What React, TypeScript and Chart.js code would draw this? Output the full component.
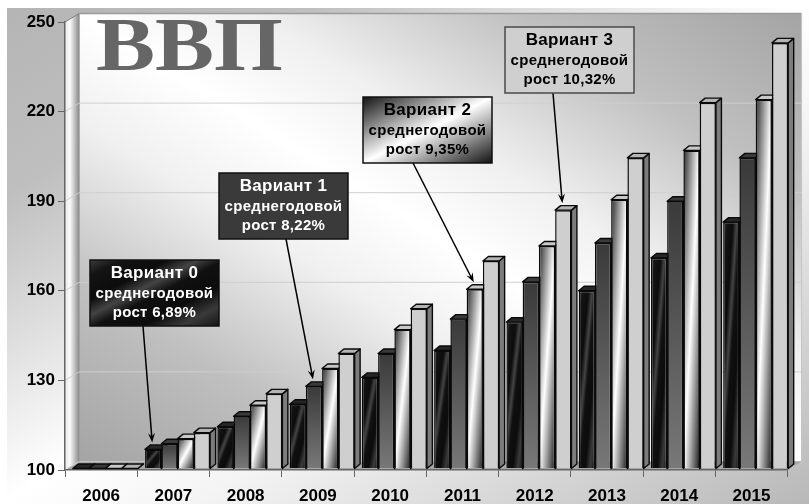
import React, { useEffect, useRef } from "react";
import { Chart, registerables } from "chart.js";

Chart.register(...registerables);

const years = ["2006", "2007", "2008", "2009", "2010", "2011", "2012", "2013", "2014", "2015"];
const variant0 = [100, 106.4, 114, 121.5, 130.5, 139.5, 149, 159.5, 170.5, 182.5];
const variant1 = [100, 108.3, 117.5, 127.5, 138.5, 150, 162.5, 175.5, 189.5, 204];
const variant2 = [100, 110, 121.2, 133.5, 146.5, 160, 174.5, 190, 206.5, 223.5];
const variant3 = [100, 112, 125, 138.5, 153.5, 169.5, 186.5, 204, 222.5, 242.5];
const seriesNames = ["Вариант 0", "Вариант 1", "Вариант 2", "Вариант 3"];
const growthLines = ["рост 6,89%", "рост 8,22%", "рост 9,35%", "рост 10,32%"];
const subtitleLine = "среднегодовой";
const titleText = "ВВП";
const AXIS_MIN = 100;
const AXIS_MAX = 250;
const AXIS_STEP = 30;

const capColors = ["#262626", "#3a3a3a", "#c8c8c8", "#b4b4b4"];
const sideColors = ["#202020", "#303030", "#7a7a7a", "#7c7c7c"];

// callout layout: box left/top, and the bar (year index) the arrow points at
const calloutBoxes = [
  { x: 90, y: 260, year: 1, arrowFrom: 143 },
  { x: 219, y: 173, year: 3, arrowFrom: 286 },
  { x: 363, y: 97, year: 5, arrowFrom: 413 },
  { x: 505, y: 27, year: 6, arrowFrom: 553 },
];
const BOX_W = 129;
const BOX_H = 66;
const DEPTH_X = 5.5;
const DEPTH_Y = 4.5;
const SHIFT_X = 4.2;
const SHIFT_Y = -1.5;
const WALL_X = 14;
const WALL_Y = 8.5;
const CAT_PCT = 0.9;

function unitLinear(ctx: CanvasRenderingContext2D, x: number, y: number, w: number, h: number, stops: [number, string][], anti: boolean) {
  // gradient whose iso-lines follow a rectangle diagonal
  const hh = Math.max(h, 1);
  const len = Math.hypot(hh, w);
  const nx = hh / len;
  const ny = (anti ? -w : w) / len;
  const half = (w * hh) / len;
  const cx = x + w / 2;
  const cy = y + hh / 2;
  const g = ctx.createLinearGradient(cx - nx * half, cy - ny * half, cx + nx * half, cy + ny * half);
  stops.forEach(([o, c]) => g.addColorStop(o, c));
  return g;
}

const stripes: [number, string][] = [
  [0, "#3c3c3c"], [0.12, "#141414"], [0.3, "#0c0c0c"], [0.42, "#444444"], [0.52, "#101010"], [0.7, "#0c0c0c"], [0.85, "#3a3a3a"], [1, "#141414"],
];
const shine: [number, string][] = [[0, "#2c2c2c"], [0.5, "#ffffff"], [1, "#1c1c1c"]];

function fillFor(ctx: CanvasRenderingContext2D, series: number, x: number, y: number, w: number, h: number): any {
  if (series === 0) return unitLinear(ctx, x, y, w, h, stripes, false);
  if (series === 1) {
    const g = ctx.createLinearGradient(0, y, 0, y + Math.max(h, 1));
    g.addColorStop(0, "#3a3a3a");
    g.addColorStop(1, "#787878");
    return g;
  }
  if (series === 2) return unitLinear(ctx, x, y, w, h, shine, false);
  return "#cfcfcf";
}

function barFill(c: any) {
  const chart = c.chart;
  if (!chart.chartArea || c.dataIndex === undefined) return "#888";
  const xs = chart.scales.x;
  const ys = chart.scales.y;
  const cat = xs.width / years.length;
  const slot = (cat * CAT_PCT) / 4;
  const left = xs.getPixelForValue(c.dataIndex) - (cat * CAT_PCT) / 2 + slot * c.datasetIndex;
  const top = ys.getPixelForValue(c.raw);
  return fillFor(chart.ctx, c.datasetIndex, left, top, slot, chart.chartArea.bottom - top);
}

const scene = {
  id: "scene",
  beforeDraw(chart: any) {
    const { ctx, chartArea: a, width, height } = chart;
    ctx.save();
    // page panel
    ctx.fillStyle = "#ffffff";
    ctx.fillRect(0, 0, width, height);
    ctx.save();
    ctx.beginPath();
    ctx.rect(7, 8, width - 7, height - 8);
    ctx.clip();
    ctx.scale(width, height);
    const bg = ctx.createLinearGradient(0, 0, 1, 1);
    bg.addColorStop(0, "#b4b4b4");
    bg.addColorStop(0.2, "#bfbfbf");
    bg.addColorStop(0.5, "#ffffff");
    bg.addColorStop(0.62, "#f4f4f4");
    bg.addColorStop(1, "#b8b8b8");
    ctx.fillStyle = bg;
    ctx.fillRect(0, 0, 1, 1);
    ctx.restore();

    const L = a.left, R = a.right, T = a.top, B = a.bottom;
    const wl = L + WALL_X, wr = R + WALL_X, wt = T - WALL_Y, wb = B - WALL_Y;

    // back wall
    ctx.save();
    ctx.beginPath();
    ctx.rect(wl, wt, wr - wl, wb - wt);
    ctx.clip();
    ctx.translate(wl, wb);
    ctx.scale(wr - wl, wt - wb);
    const wall = ctx.createLinearGradient(0, 0, 1, 1);
    wall.addColorStop(0, "#a4a4a4");
    wall.addColorStop(0.2, "#c0c0c0");
    wall.addColorStop(0.38, "#f0f0f0");
    wall.addColorStop(0.5, "#ffffff");
    wall.addColorStop(0.62, "#f0f0f0");
    wall.addColorStop(0.8, "#c0c0c0");
    wall.addColorStop(1, "#a4a4a4");
    ctx.fillStyle = wall;
    ctx.fillRect(0, 0, 1, 1);
    ctx.restore();
    ctx.strokeStyle = "#9a9a9a";
    ctx.lineWidth = 1.5;
    ctx.beginPath();
    ctx.moveTo(wl, wb);
    ctx.lineTo(wl, wt);
    ctx.lineTo(wr, wt);
    ctx.stroke();
    ctx.strokeStyle = "#c4c4c4";
    ctx.lineWidth = 1;
    ctx.beginPath();
    ctx.moveTo(wr, wt);
    ctx.lineTo(wr, wb);
    ctx.stroke();

    // left side wall
    const side = ctx.createLinearGradient(L, 0, wl, 0);
    side.addColorStop(0, "#e8e8e8");
    side.addColorStop(0.35, "#fbfbfb");
    side.addColorStop(1, "#8c8c8c");
    ctx.fillStyle = side;
    ctx.beginPath();
    ctx.moveTo(L, T);
    ctx.lineTo(wl, wt);
    ctx.lineTo(wl, wb);
    ctx.lineTo(L, B);
    ctx.closePath();
    ctx.fill();

    // floor
    ctx.fillStyle = "#a6a6a6";
    ctx.beginPath();
    ctx.moveTo(L, B);
    ctx.lineTo(wl, wb);
    ctx.lineTo(wr, wb);
    ctx.lineTo(R, B);
    ctx.closePath();
    ctx.fill();

    // wall grid lines, from the value scale
    chart.scales.y.ticks.forEach((t: any, i: number) => {
      const py = chart.scales.y.getPixelForValue(t.value);
      const last = i === chart.scales.y.ticks.length - 1;
      ctx.strokeStyle = last ? "#808080" : "#cfcfcf";
      ctx.lineWidth = 1;
      ctx.beginPath();
      ctx.moveTo(L, py);
      ctx.lineTo(wl, py - WALL_Y);
      if (i > 0 && !last) ctx.lineTo(wr, py - WALL_Y);
      ctx.stroke();
    });

    // big title
    ctx.save();
    ctx.translate(96, 70);
    ctx.scale(1.165, 1);
    ctx.fillStyle = "#666666";
    ctx.font = 'bold 76px "Liberation Serif"';
    ctx.textAlign = "left";
    ctx.textBaseline = "alphabetic";
    ctx.fillText(titleText, 0, 0);
    ctx.restore();
    ctx.restore();
  },
  beforeDatasetsDraw(chart: any) {
    const { ctx, chartArea } = chart;
    ctx.save();
    ctx.translate(SHIFT_X, SHIFT_Y);
    // caps and side faces of every bar, left to right
    years.forEach((_: string, yi: number) => {
      [0, 1, 2, 3].forEach((si) => {
        const el = chart.getDatasetMeta(si).data[yi];
        const w = el.width;
        const l = el.x - w / 2;
        const r = el.x + w / 2;
        const t = el.y;
        const b = chartArea.bottom;
        ctx.lineWidth = 1.4;
        ctx.strokeStyle = "#0a0a0a";
        ctx.lineJoin = "round";
        ctx.fillStyle = sideColors[si];
        ctx.beginPath();
        ctx.moveTo(r, t);
        ctx.lineTo(r + DEPTH_X, t - DEPTH_Y);
        ctx.lineTo(r + DEPTH_X, b - DEPTH_Y);
        ctx.lineTo(r, b);
        ctx.closePath();
        ctx.fill();
        ctx.stroke();
        ctx.fillStyle = capColors[si];
        ctx.beginPath();
        ctx.moveTo(l, t);
        ctx.lineTo(l + DEPTH_X, t - DEPTH_Y);
        ctx.lineTo(r + DEPTH_X, t - DEPTH_Y);
        ctx.lineTo(r, t);
        ctx.closePath();
        ctx.fill();
        ctx.stroke();
      });
    });
  },
  afterDatasetsDraw(chart: any) {
    const { ctx } = chart;
    ctx.restore();
    ctx.save();
    calloutBoxes.forEach((box, si) => {
      const el = chart.getDatasetMeta(si).data[box.year];
      // arrow
      const fx = box.arrowFrom;
      const fy = box.y + BOX_H;
      const tx = el.x + SHIFT_X - 1;
      const ty = el.y + SHIFT_Y - 7;
      const ang = Math.atan2(ty - fy, tx - fx);
      ctx.strokeStyle = "#000";
      ctx.fillStyle = "#000";
      ctx.lineWidth = 1.5;
      ctx.beginPath();
      ctx.moveTo(fx, fy);
      ctx.lineTo(tx - Math.cos(ang) * 4, ty - Math.sin(ang) * 4);
      ctx.stroke();
      ctx.beginPath();
      ctx.moveTo(tx, ty);
      ctx.lineTo(tx - Math.cos(ang - 0.36) * 10, ty - Math.sin(ang - 0.36) * 10);
      ctx.lineTo(tx - Math.cos(ang) * 6, ty - Math.sin(ang) * 6);
      ctx.lineTo(tx - Math.cos(ang + 0.36) * 10, ty - Math.sin(ang + 0.36) * 10);
      ctx.closePath();
      ctx.fill();
      // box
      ctx.fillStyle = si === 0 ? unitLinear(ctx, box.x, box.y, BOX_W, BOX_H, stripes, false)
        : si === 1 ? "#3a3a3a"
        : si === 2 ? unitLinear(ctx, box.x, box.y, BOX_W, BOX_H, [[0, "#111111"], [0.5, "#ffffff"], [1, "#111111"]], false)
        : "#cfcfcf";
      ctx.fillRect(box.x, box.y, BOX_W, BOX_H);
      ctx.strokeStyle = si === 3 ? "#4a4a4a" : "#111111";
      ctx.lineWidth = 1.5;
      ctx.strokeRect(box.x, box.y, BOX_W, BOX_H);
      // text
      const cx = box.x + BOX_W / 2;
      ctx.fillStyle = si < 2 ? "#ffffff" : "#000000";
      ctx.textAlign = "center";
      ctx.textBaseline = "middle";
      (ctx as any).letterSpacing = "0.3px";
      ctx.font = 'bold 17px "Liberation Sans"';
      ctx.fillText(seriesNames[si], cx, box.y + 13);
      ctx.font = 'bold 15px "Liberation Sans"';
      ctx.fillText(subtitleLine, cx, box.y + 34);
      ctx.fillText(growthLines[si], cx, box.y + 53);
      (ctx as any).letterSpacing = "0px";
    });
    ctx.restore();
  },
};

export default function App() {
  const ref = useRef<HTMLCanvasElement>(null);
  useEffect(() => {
    const mk = (i: number, data: number[]) => ({
      label: seriesNames[i],
      data,
      base: AXIS_MIN,
      clip: false,
      backgroundColor: barFill,
      borderColor: "#0a0a0a",
      borderWidth: 1.5,
      categoryPercentage: CAT_PCT,
      barPercentage: 1,
    });
    const chart = new Chart(ref.current!, {
      type: "bar",
      data: {
        labels: years,
        datasets: [mk(0, variant0), mk(1, variant1), mk(2, variant2), mk(3, variant3)],
      },
      plugins: [scene],
      options: {
        animation: false,
        responsive: false,
        layout: { padding: { left: 0, top: 22, right: 21.4, bottom: 0 } },
        plugins: { legend: { display: false }, title: { display: false }, tooltip: { enabled: false } },
        scales: {
          x: {
            afterFit: (s: any) => { s.height = 34; },
            grid: { drawOnChartArea: false, tickLength: 7, color: "#666666" },
            border: { color: "#666666", width: 1.5 },
            ticks: {
              color: "#000",
              autoSkip: false,
              maxRotation: 0,
              padding: 9,
              font: { family: "Liberation Sans", weight: "bold", size: 17 },
            },
          },
          y: {
            min: AXIS_MIN,
            max: AXIS_MAX,
            afterFit: (s: any) => { s.width = 65; },
            grid: { drawOnChartArea: false, tickLength: 7, color: "#666666" },
            border: { color: "#666666", width: 1.5 },
            ticks: {
              stepSize: AXIS_STEP,
              color: "#000",
              padding: 3,
              font: { family: "Liberation Sans", weight: "bold", size: 17 },
            },
          },
        },
      },
    } as any);
    return () => chart.destroy();
  }, []);
  return <canvas ref={ref} width={809} height={504} style={{ position: "fixed", left: 0, top: 0, display: "block" }} />;
}
